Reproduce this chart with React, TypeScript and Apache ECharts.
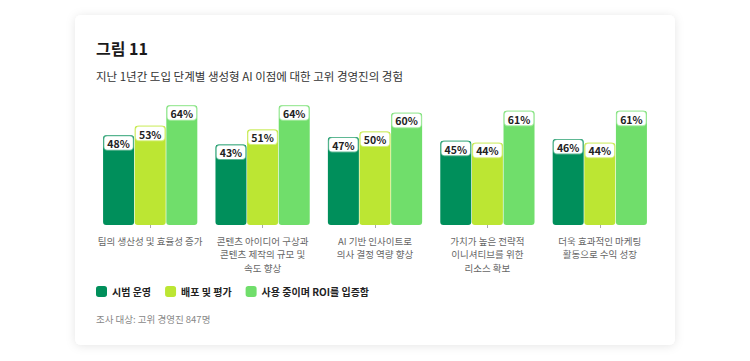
import React, { useEffect, useRef } from "react";
import * as echarts from "echarts";

const categories = [
  "팀의 생산성 및 효율성 증가",
  "콘텐츠 아이디어 구상과\n콘텐츠 제작의 규모 및\n속도 향상",
  "AI 기반 인사이트로\n의사 결정 역량 향상",
  "가치가 높은 전략적\n이니셔티브를 위한\n리소스 확보",
  "더욱 효과적인 마케팅\n활동으로 수익 성장",
];
const seriesNames = ["시범 운영", "배포 및 평가", "사용 중이며 ROI를 입증함"];
const pilot = [48, 43, 47, 45, 46];
const deploy = [53, 51, 50, 44, 44];
const inUse = [64, 64, 60, 61, 61];

const colors = ["#008F5B", "#BCE633", "#70DE6B"];
const borderColors = ["#5FB894", "#D6F07C", "#A6EBA3"];
const FONT = "'Noto Sans CJK KR', 'Noto Sans', sans-serif";

export default function App() {
  const ref = useRef<HTMLDivElement>(null);
  useEffect(() => {
    if (!ref.current) return;
    const chart = echarts.init(ref.current, undefined, { renderer: "svg" });
    const data = [pilot, deploy, inUse];
    chart.setOption({
      animation: false,
      backgroundColor: "#ffffff",
      textStyle: { fontFamily: FONT },
      graphic: [
        {
          type: "rect",
          shape: { x: 75, y: 15, width: 600, height: 330, r: 6 },
          style: { fill: "#ffffff", shadowBlur: 10, shadowColor: "rgba(0,0,0,0.10)", shadowOffsetY: 1 },
          z: -10,
        },
        {
          type: "text",
          left: 96,
          top: 40,
          style: { text: "그림 11", font: `bold 16px ${FONT}`, fill: "#1a1a1a" },
        },
        {
          type: "text",
          left: 96,
          top: 70,
          style: { text: "지난 1년간 도입 단계별 생성형 AI 이점에 대한 고위 경영진의 경험", font: `11.5px ${FONT}`, fill: "#333333" },
        },
        {
          type: "text",
          left: 96,
          top: 314,
          style: { text: "조사 대상: 고위 경영진 847명", font: `9.5px ${FONT}`, fill: "#888888" },
        },
      ],
      legend: {
        left: 91,
        top: 281,
        padding: [5, 5, 5, 5],
        itemWidth: 11,
        itemHeight: 11,
        itemGap: 14,
        icon: "roundRect",
        textStyle: { fontFamily: FONT, fontSize: 10, fontWeight: "bold", color: "#222222" },
        data: seriesNames,
      },
      grid: { left: 94, right: 94, top: 94, height: 131, containLabel: false },
      xAxis: {
        type: "category",
        data: categories,
        axisLine: { show: false },
        axisTick: { show: true, length: 3, lineStyle: { color: "#aaaaaa" }, alignWithLabel: true },
        axisLabel: {
          interval: 0,
          margin: 9,
          fontFamily: FONT,
          fontSize: 9.5,
          lineHeight: 13.5,
          color: "#666666",
          align: "center",
        },
      },
      yAxis: { type: "value", min: 0, max: 70, show: false, splitLine: { show: false } },
      series: data.map((d, i) => ({
        name: seriesNames[i],
        type: "bar",
        data: d,
        barWidth: 31,
        barGap: "2%",
        itemStyle: { color: colors[i], borderRadius: 3 },
        label: {
          show: true,
          position: "insideTop",
          distance: 1,
          formatter: "{c}%",
          fontFamily: FONT,
          fontSize: 10.5,
          fontWeight: "bold",
          color: "#222222",
          backgroundColor: "#ffffff",
          borderColor: borderColors[i],
          borderWidth: 1,
          borderRadius: 3,
          padding: [2, 3, 1, 3],
        },
      })),
    });
    return () => chart.dispose();
  }, []);
  return (
    <div
      ref={ref}
      style={{ position: "fixed", left: 0, top: 0, width: 750, height: 361 }}
    />
  );
}
